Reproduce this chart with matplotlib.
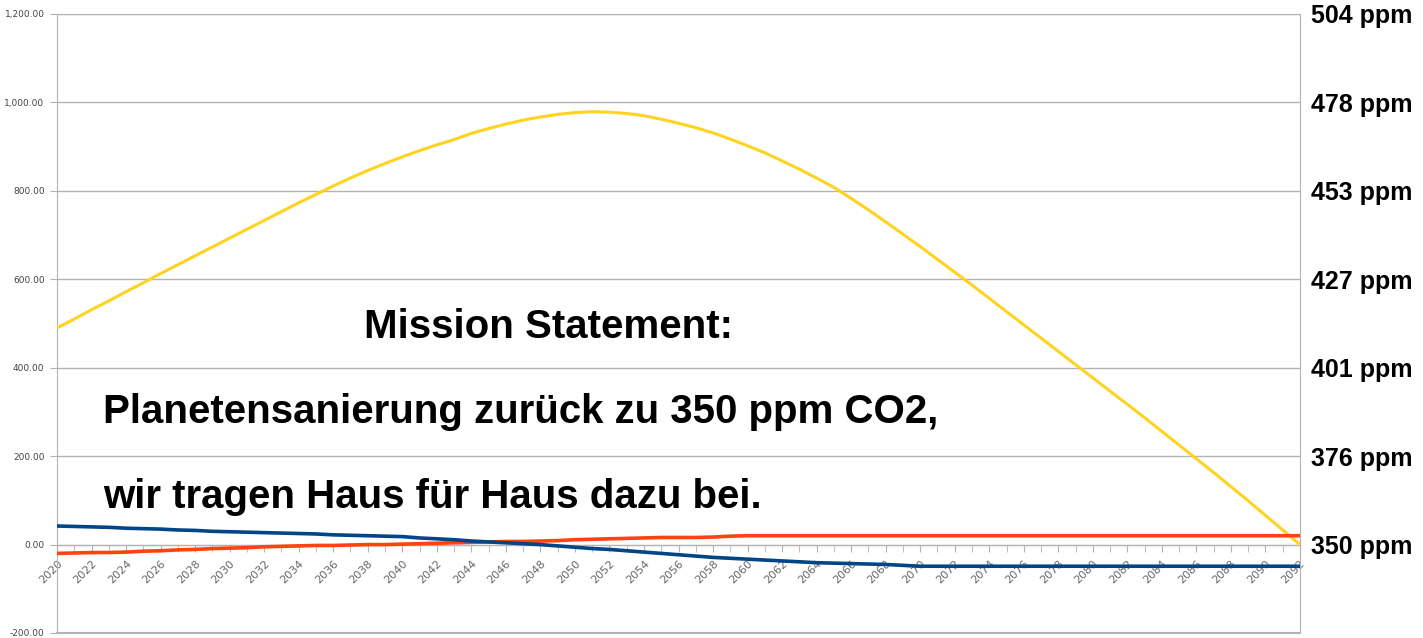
import numpy as np
import matplotlib
matplotlib.use("Agg")
from matplotlib import pyplot as plt
from matplotlib.ticker import MultipleLocator

# Years on the category axis
years = list(range(2020, 2093))

# Yellow series (CO2 path, left axis units)
co2_path = [490, 510, 531, 551, 572, 592, 613, 633, 653, 673,
            693, 713, 733, 753, 773, 792, 811, 829, 846, 862,
            877, 891, 904, 916, 930, 941, 951, 960, 967, 973,
            977, 979, 978, 975, 970, 962, 953, 943, 931, 917,
            902, 886, 868, 849, 829, 808, 783, 757, 730, 702,
            674, 645, 616, 587, 557, 527, 497, 467, 437, 407,
            377, 347, 317, 287, 256, 225, 194, 163, 131, 99,
            66, 33, 0]

# Blue series
blue_vals = [42, 41, 40, 39, 37, 36, 35, 33, 32, 30,
             29, 28, 27, 26, 25, 24, 22, 21, 20, 19,
             18, 15, 13, 11, 8, 6, 4, 2, 0, -3,
             -6, -9, -11, -14, -17, -20, -23, -26, -29, -31,
             -33, -35, -37, -39, -41, -42, -43, -44, -45, -47,
             -49] + [-49] * 22

# Orange series
orange_vals = [-20, -19, -18, -18, -17, -15, -14, -12, -11, -9,
               -8, -7, -5, -4, -3, -2, -2, -1, 0, 0,
               1, 2, 3, 4, 5, 6, 7, 7, 8, 9,
               11, 12, 13, 14, 15, 16, 16, 16, 17, 19] + [20] * 33

# Left axis ticks and matching ppm labels on the right
left_ticks = [-200, 0, 200, 400, 600, 800, 1000, 1200]
ppm_ticks = [0, 200, 400, 600, 800, 1000, 1200]
ppm_labels = ["350 ppm", "376 ppm", "401 ppm", "427 ppm", "453 ppm", "478 ppm", "504 ppm"]

mission_lines = ["Mission Statement:",
                 "Planetensanierung zurück zu 350 ppm CO2,",
                 "wir tragen Haus für Haus dazu bei."]

W, H = 1423, 638
fig = plt.figure(figsize=(W / 100, H / 100), dpi=100)
ax = fig.add_axes([57 / W, 1 - 633 / H, (1300 - 57) / W, (633 - 14) / H])

grid_c = "#b3b3b3"

ax.plot(years, co2_path, color="#ffd320", lw=2.2, zorder=3)
ax.plot(years, orange_vals, color="#ff420e", lw=2.6, zorder=3)
ax.plot(years, blue_vals, color="#004586", lw=2.6, zorder=3)

ax.set_xlim(2020, 2092)
ax.set_ylim(-200, 1200)
ax.set_yticks(left_ticks)
ax.set_yticklabels(["{:,.2f}".format(t) for t in left_ticks])
ax.yaxis.grid(True, color=grid_c, lw=1)
ax.set_axisbelow(True)

for s in ax.spines.values():
    s.set_color(grid_c)
ax.spines["bottom"].set_position(("data", 0))
ax.axhline(-200, color=grid_c, lw=1.5, clip_on=False)

ax.tick_params(axis="y", length=5, color=grid_c, labelsize=6.5,
               labelcolor="#444444", pad=4)

ax.xaxis.set_minor_locator(MultipleLocator(1))
ax.set_xticks(years[::2])
ax.set_xticklabels([str(y) for y in years[::2]], rotation=45,
                   ha="right", va="top", rotation_mode="anchor")
ax.tick_params(axis="x", which="both", length=5, color=grid_c,
               labelsize=8, labelcolor="#666666", pad=5)

# right axis with ppm labels
ax2 = ax.twinx()
ax2.set_ylim(-200, 1200)
ax2.set_yticks(ppm_ticks)
ax2.set_yticklabels(ppm_labels, fontsize=18, fontweight="bold",
                    family="Liberation Sans")
ax2.tick_params(axis="y", length=0, pad=8)
for s in ax2.spines.values():
    s.set_visible(False)

# mission statement text
fig.text(548 / W, 1 - 327 / H, mission_lines[0], ha="center", va="center",
         fontsize=29, fontweight="bold", family="Liberation Sans")
fig.text(103 / W, 1 - 412 / H, mission_lines[1], ha="left", va="center",
         fontsize=29, fontweight="bold", family="Liberation Sans")
fig.text(103 / W, 1 - 497 / H, mission_lines[2], ha="left", va="center",
         fontsize=29, fontweight="bold", family="Liberation Sans")

plt.savefig("out.png", dpi=100)
